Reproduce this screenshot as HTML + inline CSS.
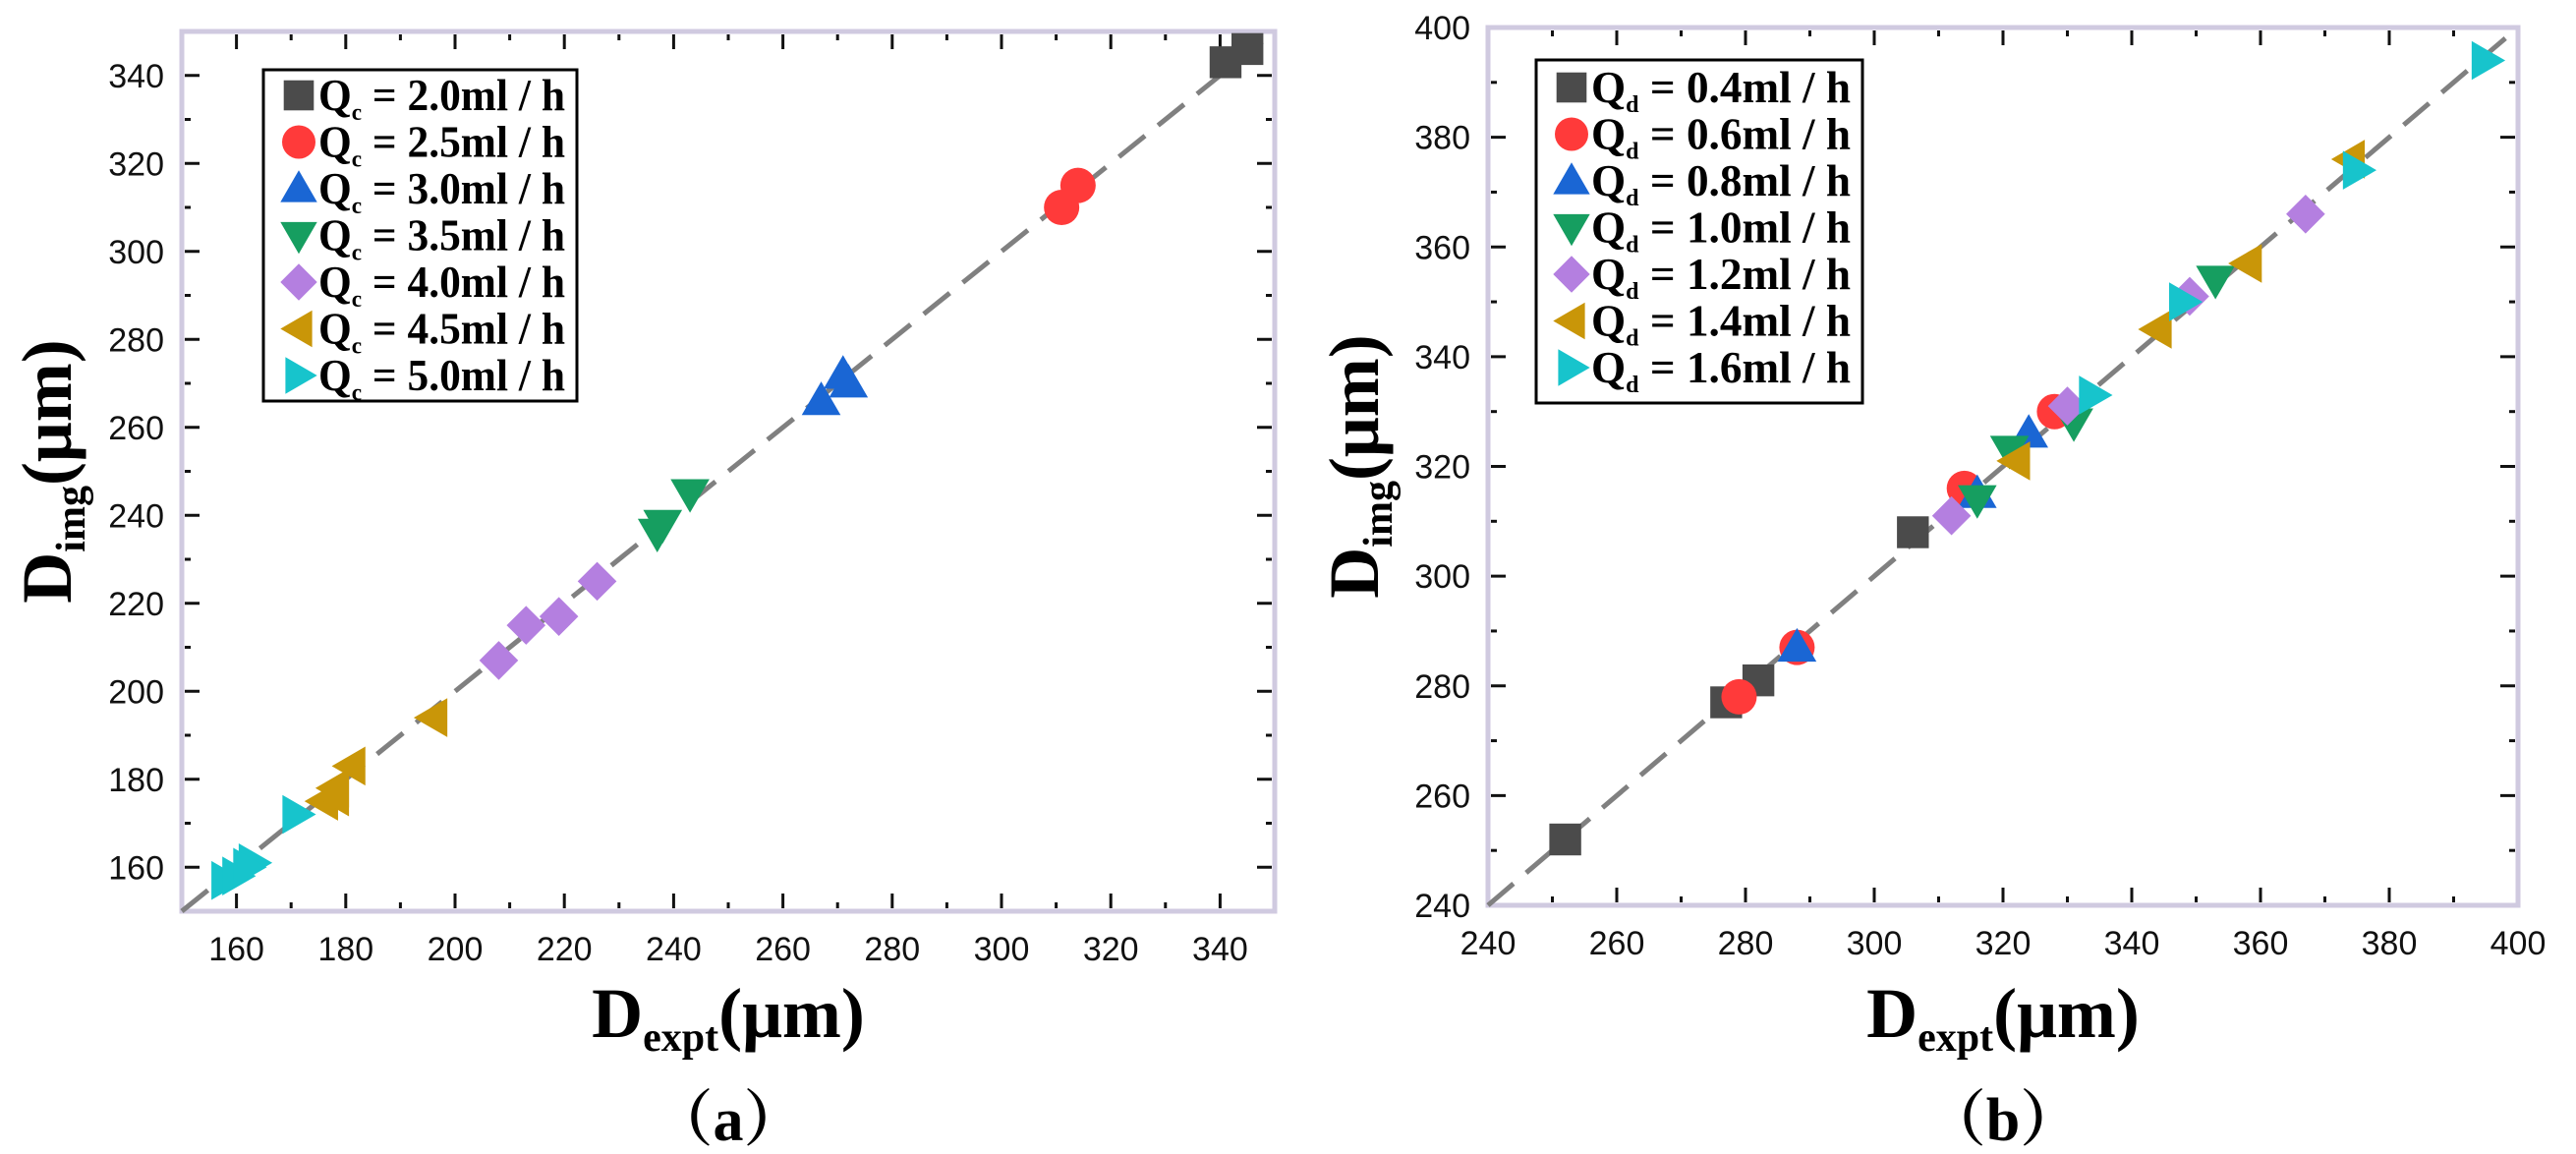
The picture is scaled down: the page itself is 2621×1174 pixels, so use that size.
<!DOCTYPE html>
<html><head><meta charset="utf-8"><style>
html,body{margin:0;padding:0;background:#fff;}
svg{display:block;}
</style></head><body>
<svg id="fig" width="2621" height="1174" viewBox="0 0 2621 1174" xmlns="http://www.w3.org/2000/svg"></svg>
<script>
// ---- Panel (a) data ----
const aLabels = ["2.0","2.5","3.0","3.5","4.0","4.5","5.0"];
const aX = [[341,345],[311,314],[267,271,272],[237,238,243],[208,213,219,226],[196,176,178,181,178],[158,160,163,171,162]];
const aY = [[343,346],[310,315],[266,272,270],[236,238,245],[207,215,217,225],[194,175,178,183,176],[157,158,161,172,160]];
const aTicks = [160,180,200,220,240,260,280,300,320,340];
// ---- Panel (b) data ----
const bLabels = ["0.4","0.6","0.8","1.0","1.2","1.4","1.6"];
const bX = [[252,277,282,306],[279,288,314,328],[288,316,324],[316,321,331,353],[312,330,349,367],[322,344,358,374],[334,348,375,395]];
const bY = [[252,277,281,308],[278,287,316,330],[287,315,326],[314,323,328,354],[311,331,351,366],[321,345,357,376],[333,350,374,394]];
const bTicks = [240,260,280,300,320,340,360,380,400];

const colors = ["#4b4b4b","#ff3a3a","#1a66d4","#169e60","#b47fe0","#c99608","#17c4cc"];
const shapes = ["square","circle","up","down","diamond","left","right"];
const NS = "http://www.w3.org/2000/svg";
const svg = document.getElementById("fig");
function el(tag, attrs, parent){const e=document.createElementNS(NS,tag);for(const k in attrs)e.setAttribute(k,attrs[k]);(parent||svg).appendChild(e);return e;}

function marker(g, shape, cx, cy, s, color){
  let e;
  const r=s/2;
  if(shape==="square") e=el("rect",{x:cx-r*0.9,y:cy-r*0.9,width:s*0.9,height:s*0.9,fill:color},g);
  else if(shape==="circle") e=el("circle",{cx:cx,cy:cy,r:r,fill:color},g);
  else {
    let p;
    if(shape==="up") p=[[cx,cy-r*1.1],[cx+r*1.1,cy+r*0.8],[cx-r*1.1,cy+r*0.8]];
    if(shape==="down") p=[[cx,cy+r*1.1],[cx+r*1.1,cy-r*0.8],[cx-r*1.1,cy-r*0.8]];
    if(shape==="left") p=[[cx-r*1.1,cy],[cx+r*0.8,cy-r*1.1],[cx+r*0.8,cy+r*1.1]];
    if(shape==="right") p=[[cx+r*1.1,cy],[cx-r*0.8,cy-r*1.1],[cx-r*0.8,cy+r*1.1]];
    if(shape==="diamond") p=[[cx,cy-r*1.1],[cx+r*1.1,cy],[cx,cy+r*1.1],[cx-r*1.1,cy]];
    e=el("polygon",{points:p.map(q=>q.join(",")).join(" "),fill:color},g);
  }
  return e;
}

function panel(cfg){
  const {L,R,T,B,min,max,ticks,xs,ys,labels,sub,leg,title,name}=cfg;
  const g=el("g",{});
  
  
  const sx=v=>L+(v-min)/(max-min)*(R-L);
  const sy=v=>B-(v-min)/(max-min)*(B-T);
  const fr=el("rect",{x:L,y:T,width:R-L,height:B-T,fill:"#fff",stroke:"#d0cae0","stroke-width":5},g);
  
  
  const step=ticks[1]-ticks[0];
  for(let v=min; v<=max+0.01; v+=step/2){
    const major=Math.abs(((v-ticks[0])/step)-Math.round((v-ticks[0])/step))<0.01;
    const len=major?15:6;
    if(v>min+0.01 && v<max-0.01){
      el("line",{x1:sx(v),x2:sx(v),y1:B-3,y2:B-3-len,stroke:"#111","stroke-width":3},g);
      el("line",{x1:sx(v),x2:sx(v),y1:T+3,y2:T+3+len,stroke:"#111","stroke-width":3},g);
      el("line",{y1:sy(v),y2:sy(v),x1:L+3,x2:L+3+len,stroke:"#111","stroke-width":3},g);
      el("line",{y1:sy(v),y2:sy(v),x1:R-3,x2:R-3-len,stroke:"#111","stroke-width":3},g);
    }
  }
  ticks.forEach(v=>{
    const tx=el("text",{x:sx(v),y:B+50,"text-anchor":"middle","font-family":"Liberation Sans, sans-serif","font-size":34,fill:"#111"},g);
    tx.textContent=v;
    
    
    const ty=el("text",{x:L-18,y:sy(v)+12,"text-anchor":"end","font-family":"Liberation Sans, sans-serif","font-size":34,fill:"#111"},g);
    ty.textContent=v;
    
    
  });
  const dl=el("line",{x1:sx(min),y1:sy(min),x2:sx(max),y2:sy(max),stroke:"#808080","stroke-width":5,"stroke-dasharray":"34,17"},g);
  
  
  xs.forEach((arr,i)=>{
    arr.forEach((xv,j)=>{
      const m=marker(g,shapes[i],sx(xv),sy(ys[i][j]),36,colors[i]);
      
      
    });
  });
  const lg=el("g",{},g);
  
  
  el("rect",{x:leg.x,y:leg.y,width:leg.w,height:leg.h,fill:"#fff",stroke:"#000","stroke-width":3},lg);
  labels.forEach((lab,i)=>{
    const cy=leg.y+leg.first+i*leg.dy;
    const m=marker(lg,shapes[i],leg.x+36,cy,34,colors[i]);
    
    
    const t=el("text",{x:leg.x+56,y:cy+15,"font-family":"Liberation Serif, serif","font-weight":"bold","font-size":45,fill:"#000",textLength:leg.w-68,lengthAdjust:"spacingAndGlyphs"},lg);
    t.innerHTML='Q<tspan font-size="24" dy="10">'+sub+'</tspan><tspan dy="-10"> = '+lab+'ml / h</tspan>';
    
    
  });
  const xt=el("text",{x:(L+R)/2,y:1055,"text-anchor":"middle","font-family":"Liberation Serif, serif","font-weight":"bold","font-size":72,fill:"#000"},g);
  xt.innerHTML='D<tspan font-size="42" dy="14">expt</tspan><tspan dy="-14">(μm)</tspan>';
  
  
  const yc=(T+B)/2;
  const ytx=cfg.ytx;
  const yt=el("text",{x:ytx,y:yc,"text-anchor":"middle","font-family":"Liberation Serif, serif","font-weight":"bold","font-size":72,fill:"#000",transform:"rotate(-90 "+ytx+" "+yc+")"},g);
  yt.innerHTML='D<tspan font-size="42" dy="14">img</tspan><tspan dy="-14">(μm)</tspan>';
  
  
  const pt=el("text",{x:(L+R)/2,y:1160,"text-anchor":"middle","font-family":"Liberation Serif, Noto Serif CJK SC, serif","font-weight":"bold","font-size":62,fill:"#000"},g);
  pt.textContent=title;
  
  
}

panel({L:185,R:1297,T:32,B:927,min:150,max:350,ticks:aTicks,xs:aX,ys:aY,labels:aLabels,sub:"c",
  leg:{x:268,y:71,w:319,h:337,first:26,dy:47.5},title:"（a）",name:"panel-a",ytx:72});
panel({L:1514,R:2562,T:28,B:921,min:240,max:400,ticks:bTicks,xs:bX,ys:bY,labels:bLabels,sub:"d",
  leg:{x:1563,y:61,w:332,h:349,first:28,dy:47.5},title:"（b）",name:"panel-b",ytx:1402});
</script>
</body></html>
